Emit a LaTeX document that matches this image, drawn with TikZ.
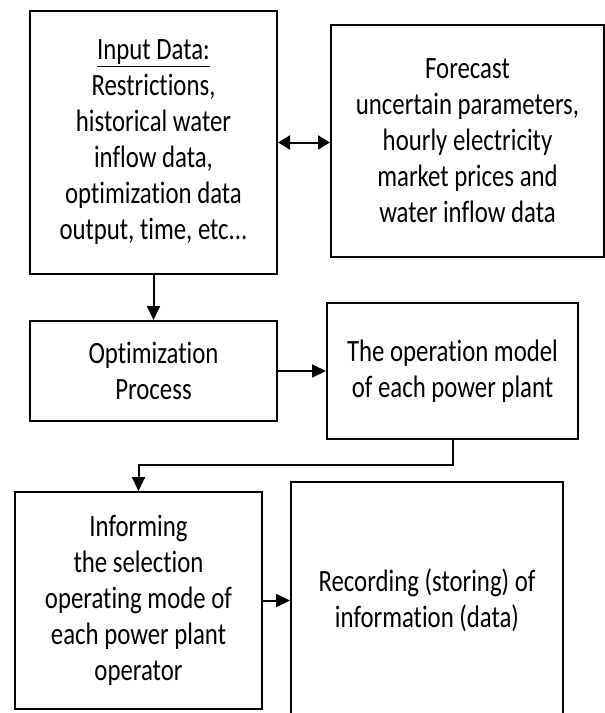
\documentclass[tikz,border=0pt]{standalone}
\usepackage{fontspec}
\setmainfont{Carlito}[FakeStretch=0.8, Ligatures=NoCommon]
\usepackage{tikz}
\usetikzlibrary{arrows.meta,calc,positioning}

\begin{document}
\begin{tikzpicture}[
    x=1pt, y=-1pt,
    every node/.style={font=\fontsize{31}{36}\selectfont, align=center},
    blk/.style={draw, line width=2pt, inner sep=0pt},
    arr/.style={-{Triangle[length=14pt, width=13pt]}, line width=2pt},
    darr/.style={{Triangle[length=12pt, width=14pt]}-{Triangle[length=12pt, width=14pt]}, line width=2pt},
  ]

  \clip (0,0) rectangle (605,713);

  % ── Nodes ────────────────────────────────────────────────────────────────

  % Top row
  \node[blk, minimum width=247pt, minimum height=263pt] (inp) at (153.5, 142.5)
    {\underline{Input Data:}\\Restrictions,\\historical water\\inflow data,\\optimization data\\output, time, etc...};
  \node[blk, minimum width=273pt, minimum height=232pt] (fc)  at (467.5, 141)
    {Forecast\\uncertain parameters,\\hourly electricity\\market prices and\\water inflow data};

  % Middle row
  \node[blk, minimum width=247pt, minimum height=100pt] (opt) at (153.5, 371)
    {Optimization\\Process};
  \node[blk, minimum width=251pt, minimum height=136pt] (op)  at (452.5, 371)
    {The operation model\\of each power plant};

  % Bottom row (record box runs past the lower edge)
  \node[blk, minimum width=247pt, minimum height=217pt] (inf) at (138.5, 600.5)
    {Informing\\the selection\\operating mode of\\each power plant\\operator};
  \node[blk, minimum width=272pt, minimum height=236pt] (rec) at (427, 600)
    {Recording (storing) of\\information (data)};

  % ── Edges ────────────────────────────────────────────────────────────────

  \draw[darr] (inp.east) -- (fc.west |- inp.east);
  \draw[arr]  (inp.south) -- (opt.north);
  \draw[arr]  (opt.east)  -- (op.west |- opt.east);
  \draw[arr]  (op.south) -- ++(0,25) -| (inf.north);
  \draw[arr]  (inf.east)  -- (rec.west |- inf.east);

\end{tikzpicture}
\end{document}
